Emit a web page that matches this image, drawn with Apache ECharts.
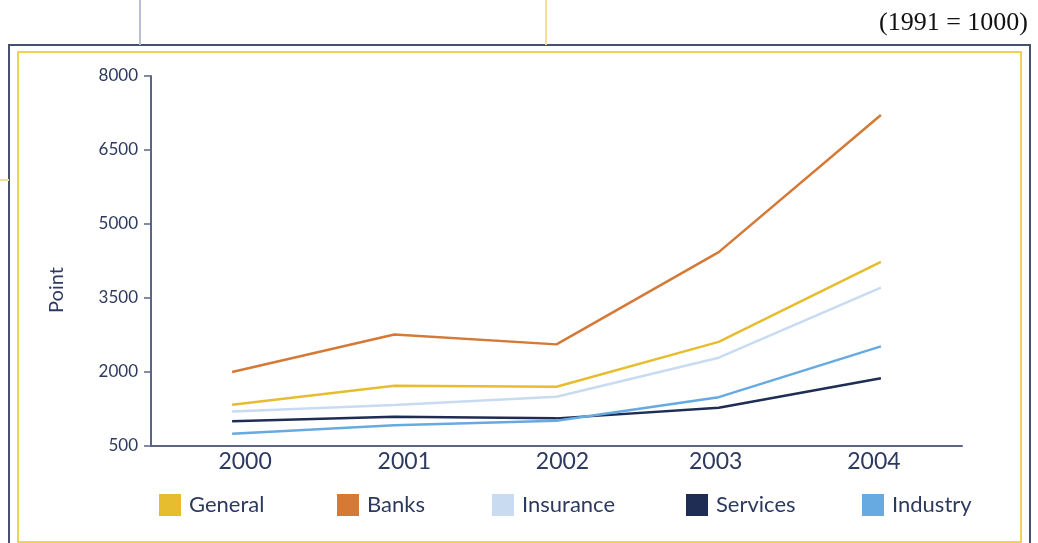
<!DOCTYPE html>
<html>
<head>
<meta charset="utf-8">
<title>Stock index by sector, 2000–2004</title>
<script src="https://cdn.jsdelivr.net/npm/echarts@6/dist/echarts.min.js"></script>
<style>
  html, body { margin: 0; padding: 0; background: #ffffff; }
  #chart { width: 1038px; height: 543px; }
</style>
</head>
<body>
<div id="chart"></div>
<script>
// Index values (base: 1991 = 1000)
const years = ['2000', '2001', '2002', '2003', '2004'];
const general   = [1335, 1720, 1700, 2610, 4230];
const banks     = [2000, 2760, 2560, 4430, 7210];
const insurance = [1200, 1330, 1500, 2290, 3710];
const services  = [1000, 1095, 1060, 1275, 1875];
const industry  = [750, 920, 1010, 1490, 2520];

const seriesNames = ['General', 'Banks', 'Insurance', 'Services', 'Industry'];
const seriesData = [general, banks, insurance, services, industry];
const seriesColors = ['#e6bd2e', '#d47936', '#c9dbf1', '#1f2d54', '#66aae1'];

const baseNote = '(1991 = 1000)';
const yAxisName = 'Point';

const FONT = 'Lato, "Noto Sans", sans-serif';
const TEXT = '#2d3a5f';
const AXIS = '#5b6585';

// horizontal nudges for the year labels
const yearPad = [[0, 0, 0, 26], [0, 0, 0, 20], [0, 0, 0, 12], [0, 6, 0, 0], [0, 14, 0, 0]];
const yearRich = {};
yearPad.forEach((p, i) => {
  yearRich['p' + i] = { padding: p, fontSize: 23, fontFamily: FONT, color: TEXT };
});

const legendLeft = [159, 337, 492, 686, 862];

const chart = echarts.init(document.getElementById('chart'), null, { renderer: 'canvas' });

chart.setOption({
  backgroundColor: '#ffffff',
  animation: false,
  textStyle: { fontFamily: FONT },
  grid: { left: 151, right: 76, top: 76, bottom: 97 },
  legend: seriesNames.map((name, i) => ({
    data: [name],
    left: legendLeft[i],
    top: 494,
    padding: 0,
    itemWidth: 22,
    itemHeight: 22,
    itemGap: 8,
    icon: 'rect',
    selectedMode: false,
    textStyle: { fontSize: 22, color: TEXT, fontFamily: FONT, padding: [0, 0, 0, 3] }
  })),
  xAxis: {
    type: 'category',
    data: years,
    boundaryGap: true,
    axisLine: { lineStyle: { color: AXIS, width: 2 } },
    axisTick: { show: false },
    axisLabel: {
      margin: 4,
      formatter: (v, i) => '{p' + i + '|' + v + '}',
      rich: yearRich
    },
    splitLine: { show: false }
  },
  yAxis: {
    type: 'value',
    min: 500,
    max: 8000,
    interval: 1500,
    name: yAxisName,
    nameLocation: 'middle',
    nameGap: 84,
    nameTextStyle: { fontSize: 20, color: TEXT, fontFamily: FONT, padding: [0, 58, 0, 0] },
    axisLine: { show: true, lineStyle: { color: AXIS, width: 2 } },
    axisTick: { show: true, length: 7, lineStyle: { color: AXIS, width: 1.5 } },
    axisLabel: {
      fontSize: 17, color: TEXT, margin: 13, fontFamily: FONT,
      formatter: (v) => String(v)
    },
    splitLine: { show: false }
  },
  series: seriesNames.map((name, i) => ({
    name: name,
    type: 'line',
    data: seriesData[i],
    symbol: 'none',
    color: seriesColors[i],
    lineStyle: { width: 2.5, color: seriesColors[i] },
    z: 2 + i
  })),
  graphic: [
    // connector lines above the frame
    { type: 'line', silent: true, shape: { x1: 140, y1: 0, x2: 140, y2: 45 }, style: { stroke: '#b9bdd1', lineWidth: 2 } },
    { type: 'line', silent: true, shape: { x1: 546, y1: 0, x2: 546, y2: 45 }, style: { stroke: '#f5e08c', lineWidth: 2 } },
    { type: 'line', silent: true, shape: { x1: 0, y1: 180, x2: 9, y2: 180 }, style: { stroke: '#f5e08c', lineWidth: 2 } },
    // outer frame
    { type: 'rect', silent: true, z: -1, shape: { x: 9, y: 45, width: 1021, height: 520 }, style: { fill: 'none', stroke: '#46506f', lineWidth: 2 } },
    // inner frame
    { type: 'rect', silent: true, z: -1, shape: { x: 18, y: 52, width: 1003, height: 490 }, style: { fill: 'none', stroke: '#ebc51e', lineWidth: 1.5 } },
    // index base note
    {
      type: 'text', silent: true,
      style: {
        x: 1028, y: 23, text: baseNote, align: 'right', verticalAlign: 'middle',
        font: '26px "Liberation Serif", "DejaVu Serif", serif', fill: '#111111'
      }
    }
  ]
});
</script>
</body>
</html>
